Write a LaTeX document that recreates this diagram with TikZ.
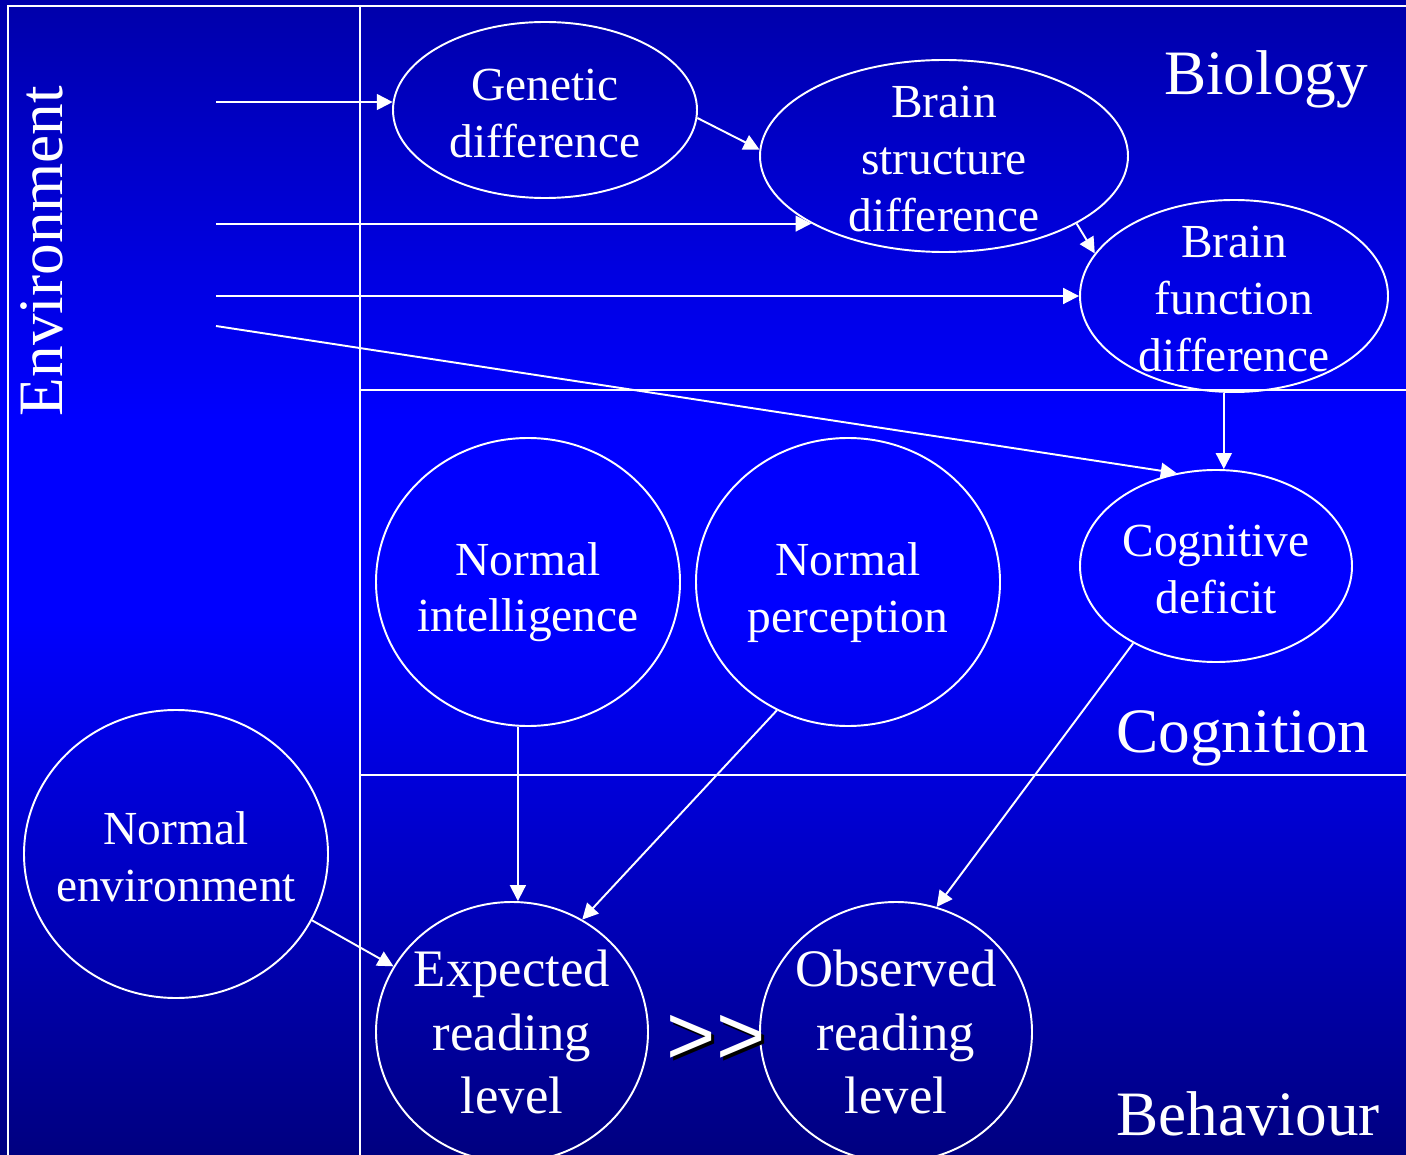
\documentclass[tikz,border=0pt]{standalone}
\usepackage{fontspec}
\setmainfont{Liberation Serif}
\setsansfont{Liberation Sans}
\usetikzlibrary{shapes.geometric,arrows.meta}
\definecolor{bgtop}{RGB}{0,0,170}
\definecolor{bgmid}{RGB}{0,0,255}
\definecolor{bgbot}{RGB}{0,0,128}
\begin{document}
\begin{tikzpicture}[
x=0.02cm, y=-0.02cm,
every node/.style={text=white},
oval/.style={ellipse, draw=white, line width=1.1pt, inner sep=0pt},
ovalsize/.style 2 args={minimum width=#1*0.02cm, minimum height=#2*0.02cm},
ovaltext/.style={align=center, inner sep=0pt, text=white, yshift=-1.8pt, font=\fontsize{27}{32.4}\selectfont},
lowtext/.style={ovaltext, yshift=-4pt},
bigtext/.style={align=center, inner sep=0pt, text=white, font=\fontsize{30}{36}\selectfont},
title/.style={anchor=base, inner sep=0pt, font=\fontsize{36}{43}\selectfont},
frame/.style={white, line width=1.4pt},
arr/.style={white, line width=1.1pt, -{Triangle[length=9pt,width=9pt]}}
]
\useasboundingbox (0,0) rectangle (1406,1155);
% background
\shade[top color=bgtop, bottom color=bgmid] (0,0) rectangle (1406,421);
\fill[bgmid] (0,420) rectangle (1406,621);
\shade[top color=bgmid, bottom color=bgbot] (0,620) rectangle (1406,1155);

% frame
\draw[frame] (8,1160) -- (8,6) -- (1410,6);
\draw[frame] (360,6) -- (360,1160);
\draw[frame] (360,390) -- (1410,390);
\draw[frame] (360,775) -- (1410,775);

% titles
\node[title, rotate=90] (envt) at (62,251) {Environment};
\node[title] (biot) at (1266,95) {Biology};
\node[title] (cogt) at (1243,752) {Cognition};
\node[title] (beht) at (1248,1135) {Behaviour};

% ovals
\node[oval, ovalsize={304}{176}, label={[ovaltext]center:Genetic\\difference}] (gen) at (545,110) {};
\node[oval, ovalsize={368}{192}, label={[ovaltext]center:Brain\\structure\\difference}] (bs) at (944,156) {};
\node[oval, ovalsize={308}{192}, label={[ovaltext]center:Brain\\function\\difference}] (bf) at (1234,296) {};
\node[oval, ovalsize={272}{192}, label={[ovaltext]center:Cognitive\\deficit}] (cd) at (1216,566) {};
\node[oval, ovalsize={304}{288}, label={[lowtext]center:Normal\\intelligence}] (ni) at (528,582) {};
\node[oval, ovalsize={304}{288}, label={[lowtext]center:Normal\\perception}] (np) at (848,582) {};
\node[oval, ovalsize={304}{288}, label={[ovaltext]center:Normal\\environment}] (ne) at (176,854) {};
\node[oval, ovalsize={272}{260}, label={[bigtext]center:Expected\\reading\\level}] (er) at (512,1032) {};
\node[oval, ovalsize={272}{260}, label={[bigtext]center:Observed\\reading\\level}] (or) at (896,1032) {};

% much greater than
\node[text=black, font=\sffamily\fontsize{48}{58}\selectfont] (gtshadow) at (719,1043) {>\kern0pt>};
\node[font=\sffamily\fontsize{48}{58}\selectfont] (gt) at (716,1040) {>\kern0pt>};

% arrows
\coordinate (envx) at (216,0);
\coordinate (e1) at (gen.177 -| envx);
\coordinate (e2) at (bs.207 -| envx);
\coordinate (e3) at (bf.west -| envx);
\coordinate (e4) at (216,326);
\draw[arr] (e1) -- (gen.177);
\draw[arr] (gen.-3) -- (bs.178);
\draw[arr] (e2) -- (bs.207);
\draw[arr] (bs.-27) -- (bf.163);
\draw[arr] (e3) -- (bf.west);
\draw[arr] (e4) -- (cd.113);
\draw[arr] (bf.264) -- (bf.264 |- cd.north);
\draw[arr] (ni.266) -- (ni.266 |- er.north);
\draw[arr] (np.241) -- (er.58);
\draw[arr] (cd.223) -- (or.72);
\draw[arr] (ne.-26) -- (er.151);
\end{tikzpicture}
\end{document}
